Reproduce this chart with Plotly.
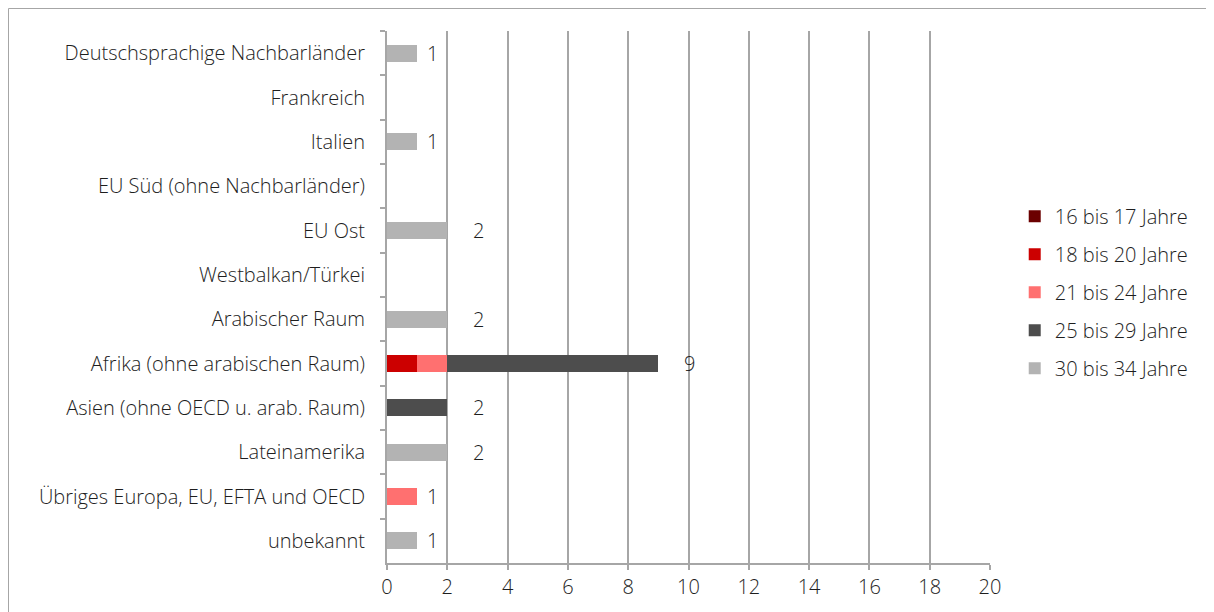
import plotly.graph_objects as go

categories = [
    "Deutschsprachige Nachbarländer",
    "Frankreich",
    "Italien",
    "EU Süd (ohne Nachbarländer)",
    "EU Ost",
    "Westbalkan/Türkei",
    "Arabischer Raum",
    "Afrika (ohne arabischen Raum)",
    "Asien (ohne OECD u. arab. Raum)",
    "Lateinamerika",
    "Übriges Europa, EU, EFTA und OECD",
    "unbekannt",
]

series_names = ["16 bis 17 Jahre", "18 bis 20 Jahre", "21 bis 24 Jahre", "25 bis 29 Jahre", "30 bis 34 Jahre"]
v_16_17 = [0, 0, 0, 0, 0, 0, 0, 0, 0, 0, 0, 0]
v_18_20 = [0, 0, 0, 0, 0, 0, 0, 1, 0, 0, 0, 0]
v_21_24 = [0, 0, 0, 0, 0, 0, 0, 1, 0, 0, 1, 0]
v_25_29 = [0, 0, 0, 0, 0, 0, 0, 7, 2, 0, 0, 0]
v_30_34 = [1, 0, 1, 0, 2, 0, 2, 0, 0, 2, 0, 1]
series_values = [v_16_17, v_18_20, v_21_24, v_25_29, v_30_34]
colors = ["#6b0000", "#cc0000", "#ff7070", "#4d4d4d", "#b3b3b3"]

x_ticks = list(range(0, 21, 2))

FONT = "Open Sans"
FS = 20
TXT = "#1e1e1e"
GRID = "#a6a6a6"

fig = go.Figure()
for name, vals, col in zip(series_names, series_values, colors):
    fig.add_trace(go.Bar(
        y=categories, x=vals, name=name, orientation="h",
        marker=dict(color=col, line=dict(width=0)),
        legendgroup=name,
    ))

totals = [sum(v) for v in zip(*series_values)]
for cat, tot in zip(categories, totals):
    if tot > 0:
        fig.add_annotation(
            x=tot, y=cat, text=str(tot), showarrow=False,
            xanchor="left", yanchor="middle",
            xshift=8 if tot == 1 else 24,
            font=dict(family=FONT, size=FS, color=TXT, weight=300),
        )

# page body has an 8px margin, so the figure is 8px smaller than the window
W, H = 1206, 604
L, T = 379, 23
R = W - 982
B = H - 555
pw, ph = W - L - R, H - T - B
fig.add_shape(
    type="rect", xref="paper", yref="paper",
    x0=(0.5 - L) / pw, x1=(W + 10 - L) / pw,
    y0=(H - B - (H + 10)) / ph, y1=(H - B - 0.5) / ph,
    line=dict(color="#a6a6a6", width=1), fillcolor="rgba(0,0,0,0)", layer="below",
)

fig.update_layout(
    width=W, height=H,
    margin=dict(l=L, r=R, t=T, b=B),
    barmode="stack",
    bargap=0.62,
    plot_bgcolor="white",
    paper_bgcolor="white",
    font=dict(family=FONT, size=FS, color=TXT, weight=300),
    showlegend=True,
    legend=dict(
        x=1.041, y=0.509, xanchor="left", yanchor="middle",
        traceorder="grouped", tracegroupgap=9,
        font=dict(family=FONT, size=FS, color=TXT, weight=300),
        itemwidth=30,
    ),
    xaxis=dict(
        range=[0, 20], tickvals=x_ticks, ticktext=[str(t) for t in x_ticks],
        showgrid=True, gridcolor=GRID, gridwidth=1.5,
        showline=True, linecolor=GRID, linewidth=2,
        ticks="outside", ticklen=5, tickcolor=GRID, tickwidth=1.5,
        zeroline=False, fixedrange=True,
        tickfont=dict(family=FONT, size=FS, color=TXT, weight=300),
    ),
    yaxis=dict(
        categoryorder="array", categoryarray=categories,
        autorange="reversed",
        showline=True, linecolor=GRID, linewidth=2,
        ticks="outside", ticklen=5, tickcolor=GRID, tickwidth=1.5,
        tickson="boundaries", showgrid=False,
        ticklabelstandoff=16,
        tickfont=dict(family=FONT, size=FS, color=TXT, weight=300),
    ),
)

fig.write_html("out.html")
